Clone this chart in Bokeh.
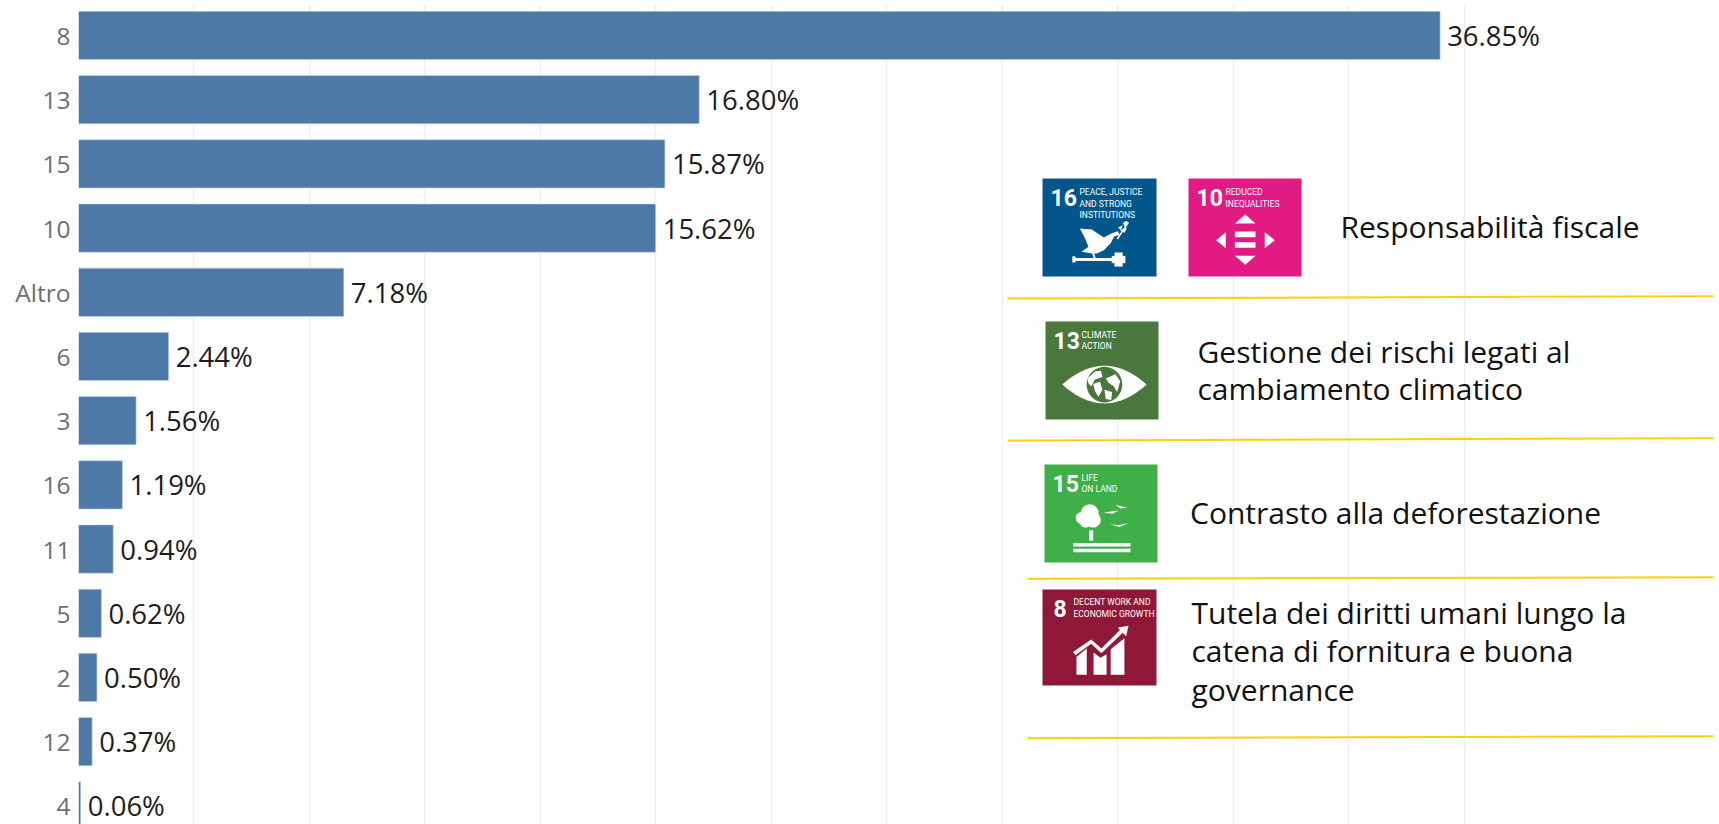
import numpy as np
from bokeh.plotting import figure
from bokeh.models import Range1d, FixedTicker, ColumnDataSource
from bokeh.core.properties import value
from bokeh.embed import file_html
from bokeh.resources import INLINE

categories = ["8", "13", "15", "10", "Altro", "6", "3", "16", "11", "5", "2", "12", "4"]
shares = [36.85, 16.80, 15.87, 15.62, 7.18, 2.44, 1.56, 1.19, 0.94, 0.62, 0.50, 0.37, 0.06]
grid_values = [0, 3.125, 6.25, 9.375, 12.5, 15.625, 18.75, 21.875, 25, 28.125, 31.25, 34.375, 37.5]

BAR = "#4E79A7"
FONT = value("Open Sans")
NARROW = value("Roboto")

p = figure(width=1719, height=824, output_backend="svg", toolbar_location=None,
           x_range=Range1d(0, 44.41), y_range=Range1d(12.29, -0.498),
           x_axis_location=None, y_axis_location="left",
           min_border_left=78, min_border_right=0, min_border_top=3, min_border_bottom=0,
           background_fill_color="white", border_fill_color="white")
p.outline_line_color = None
p.ygrid.visible = False
p.xgrid.ticker = FixedTicker(ticks=grid_values)
p.xgrid.grid_line_color = "#efefef"
p.xgrid.grid_line_width = 1.5

ax = p.yaxis[0]
ax.ticker = FixedTicker(ticks=list(range(len(categories))))
ax.major_label_overrides = {i: c for i, c in enumerate(categories)}
ax.axis_line_color = None
ax.major_tick_line_color = None
ax.minor_tick_line_color = None
ax.major_tick_out = 0
ax.major_tick_in = 0
ax.minor_tick_out = 0
ax.minor_tick_in = 0
ax.major_label_standoff = 8
ax.major_label_text_font = "Open Sans"
ax.major_label_text_font_size = "24.5px"
ax.major_label_text_color = "#6e6e6e"

ypos = list(range(len(categories)))
src = ColumnDataSource(dict(y=ypos, v=shares, label=[f"{s:.2f}%" for s in shares]))
p.hbar(y="y", right="v", left=0, height=0.752, source=src, fill_color=BAR, line_color="#c9d6e4", line_width=0.6)
p.text(x="v", y="y", text="label", source=src, x_offset=7, text_baseline="middle", text_align="left",
       text_font=FONT, text_font_size="27.5px", text_color="#1c1c1c")

# panel on the right, laid out in page pixels
p.extra_x_ranges["px"] = Range1d(78, 1719)
p.extra_y_ranges["px"] = Range1d(824, 3)
K = dict(x_range_name="px", y_range_name="px")

panel_rules = [([1007, 1713], [298, 295.7]), ([1007, 1713], [440, 437.7]),
               ([1027, 1713], [578.3, 576.7]), ([1027, 1713], [737.7, 735.7])]
for xs, ys in panel_rules:
    p.line(xs, ys, line_color="#FFCF0A", line_width=2, **K)

panel_text = [("Responsabilità fiscale", 1340, 225.5),
              ("Gestione dei rischi legati al", 1197, 350.5),
              ("cambiamento climatico", 1197, 387.5),
              ("Contrasto alla deforestazione", 1189.5, 512),
              ("Tutela dei diritti umani lungo la", 1191, 612),
              ("catena di fornitura e buona", 1191, 649.5),
              ("governance", 1191, 689)]
p.text([a[1] for a in panel_text], [a[2] for a in panel_text], text=[a[0] for a in panel_text],
       text_font=FONT, text_font_size="30px", text_color="#111111", text_baseline="middle", **K)


def box(x0, x1, y0, y1, color):
    p.quad(left=x0, right=x1, top=y0, bottom=y1, fill_color=color, line_color=None, **K)


def t(x, y, s, size="8.5px", bold=False):
    p.text([x], [y], text=[s], text_font=NARROW, text_font_size=size, text_color="white",
           text_baseline="middle", text_font_style="bold" if bold else "normal", **K)


def crop(ox, oy):
    def f(zx, zy):
        return [ox + a / 2.92 for a in zx], [oy + b / 2.92 for b in zy]
    return f


def Z2(zx, zy):
    return [1000 + a / 2.18 for a in zx], [150 + b / 3 for b in zy]


def poly(Z, zx, zy, color="white"):
    xs, ys = Z(list(zx), list(zy))
    p.patch(xs, ys, fill_color=color, line_color=None, **K)


def disc(Z, cx, cy, r, color="white"):
    th = np.linspace(0, 2 * np.pi, 41)
    poly(Z, cx + r * np.cos(th), cy + r * np.sin(th), color)


NUM = "23px"
# SDG 16
box(1042, 1156, 178, 276, "#02568C")
t(1050, 197, "16", NUM, True)
t(1079, 191.4, "PEACE, JUSTICE")
t(1079, 203.2, "AND STRONG")
t(1079, 214.4, "INSTITUTIONS")
C = crop(1040, 176)
poly(C, [115, 150, 165, 185, 210, 225, 232, 215, 205, 185, 165, 150, 120, 140, 130],
     [152, 155, 165, 178, 165, 160, 170, 175, 195, 215, 225, 225, 220, 205, 180])
poly(C, [150, 156, 162, 156], [222, 222, 240, 240])
poly(C, [95, 210, 210, 95], [238, 238, 247, 247])
poly(C, [93, 102, 102, 93], [233, 233, 251, 251])
poly(C, [208, 248, 248, 208], [232, 232, 253, 253])
poly(C, [216, 240, 240, 216], [222, 222, 263, 263])
poly(C, [222, 226, 258, 254], [182, 184, 136, 134])
poly(C, [226, 240, 236], [150, 142, 156])
poly(C, [232, 252, 246], [158, 150, 164])
poly(C, [240, 246, 258, 250], [136, 146, 134, 130])

# SDG 10
box(1188, 1301, 178, 276, "#E11A84")
t(1196, 197, "10", NUM, True)
t(1225, 191.4, "REDUCED")
t(1225, 203.2, "INEQUALITIES")
poly(Z2, [511, 556, 533.5], [219, 219, 192])
poly(Z2, [511, 556, 533.5], [316, 316, 343])
poly(Z2, [491, 491, 470], [245, 293, 269])
poly(Z2, [576, 576, 598], [245, 293, 269])
poly(Z2, [511, 556, 556, 511], [243, 243, 260, 260])
poly(Z2, [511, 556, 556, 511], [275, 275, 292, 292])

# SDG 13
box(1045, 1158, 321, 419, "#4A773C")
t(1053, 340, "13", NUM, True)
t(1081, 334.4, "CLIMATE")
t(1081, 345.7, "ACTION")
C = crop(1043, 319)
u = np.linspace(-1, 1, 41)
poly(C, list(178 + 123 * u) + list(178 - 123 * u),
     list(190 - 55 * (1 - u ** 2)) + list(190 + 55 * (1 - u ** 2)))
disc(C, 178, 190, 52, "#4A773C")
poly(C, [128, 150, 168, 172, 150, 140, 132], [172, 152, 150, 168, 175, 195, 188])
poly(C, [145, 165, 172, 160, 150], [188, 182, 205, 226, 208])
poly(C, [182, 210, 224, 215, 205, 190], [172, 160, 180, 212, 195, 185])
poly(C, [178, 200, 198, 182], [205, 212, 235, 232])

# SDG 15
box(1044, 1157, 464, 562, "#3EAF49")
t(1052, 483, "15", NUM, True)
t(1081, 477.4, "LIFE")
t(1081, 488.7, "ON LAND")
C = crop(1042, 462)
disc(C, 138, 148, 26)
disc(C, 114, 162, 17)
disc(C, 126, 172, 18)
disc(C, 148, 168, 22)
poly(C, [136, 148, 148, 136], [198, 198, 228, 228])
poly(C, [90, 257, 257, 90], [235, 235, 245, 245])
poly(C, [90, 257, 257, 90], [252, 252, 262, 262])
poly(C, [178, 200, 222, 205], [146, 143, 140, 150])
poly(C, [213, 230, 248, 228], [124, 128, 132, 134])
poly(C, [196, 222, 250, 225], [180, 183, 177, 188])

# SDG 8
box(1042, 1156, 589, 685, "#8F1838")
t(1053, 608, "8", NUM, True)
t(1073, 601.7, "DECENT WORK AND")
t(1073, 613.7, "ECONOMIC GROWTH")
C = crop(1040, 587)
poly(C, [105, 135, 135, 105], [203, 178, 255, 255])
poly(C, [155, 175, 193, 193, 155], [190, 205, 195, 255, 255])
poly(C, [205, 245, 245, 205], [180, 148, 255, 255])
poly(C, [95, 148, 178, 232, 226, 257, 250, 240, 178, 148, 102],
     [188, 152, 178, 124, 117, 112, 142, 132, 192, 164, 198])

open("out.html", "w").write(file_html(p, INLINE))
